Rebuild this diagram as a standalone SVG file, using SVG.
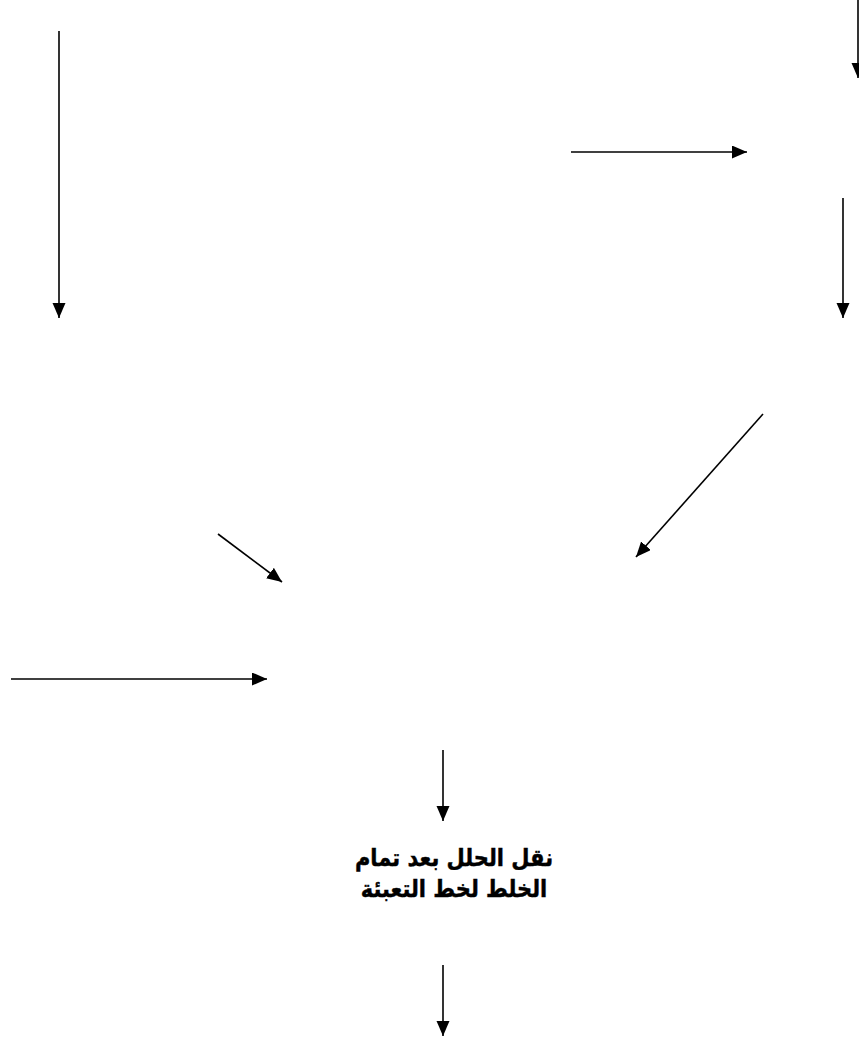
<svg xmlns="http://www.w3.org/2000/svg" width="859" height="1037" viewBox="0 0 859 1037">
<style>
.c{stroke:#000;stroke-width:1.6;fill:none;marker-end:url(#ah)}
.t{font-family:"DejaVu Sans","Noto Sans",sans-serif;font-weight:bold;font-size:21px;fill:#000;text-anchor:middle;stroke:#000;stroke-width:0.4}
</style>
<defs>
<marker id="ah" markerUnits="userSpaceOnUse" markerWidth="16" markerHeight="14" refX="15" refY="6.5" orient="auto">
<path d="M0,0 L15,6.5 L0,13 Z" fill="#000"/>
</marker>
</defs>
<rect width="859" height="1037" fill="#fff"/>
<g id="connectors">
<path class="c" d="M858,0 L858,78"/>
<path class="c" d="M571,152 L747,152"/>
<path class="c" d="M843,198 L843,318"/>
<path class="c" d="M59,31 L59,318"/>
<path class="c" d="M763,414 L636,557"/>
<path class="c" d="M218,534 L282,582"/>
<path class="c" d="M11,679 L267,679"/>
<path class="c" d="M443,750 L443,821"/>
<path class="c" d="M443,965 L443,1036"/>
</g>
<g id="node-transfer">
<text class="t" transform="translate(454,866) scale(1,1.15)" direction="rtl">نقل الحلل بعد تمام</text>
<text class="t" transform="translate(454,897) scale(1,1.15)" direction="rtl">الخلط لخط التعبئة</text>
</g>
</svg>
